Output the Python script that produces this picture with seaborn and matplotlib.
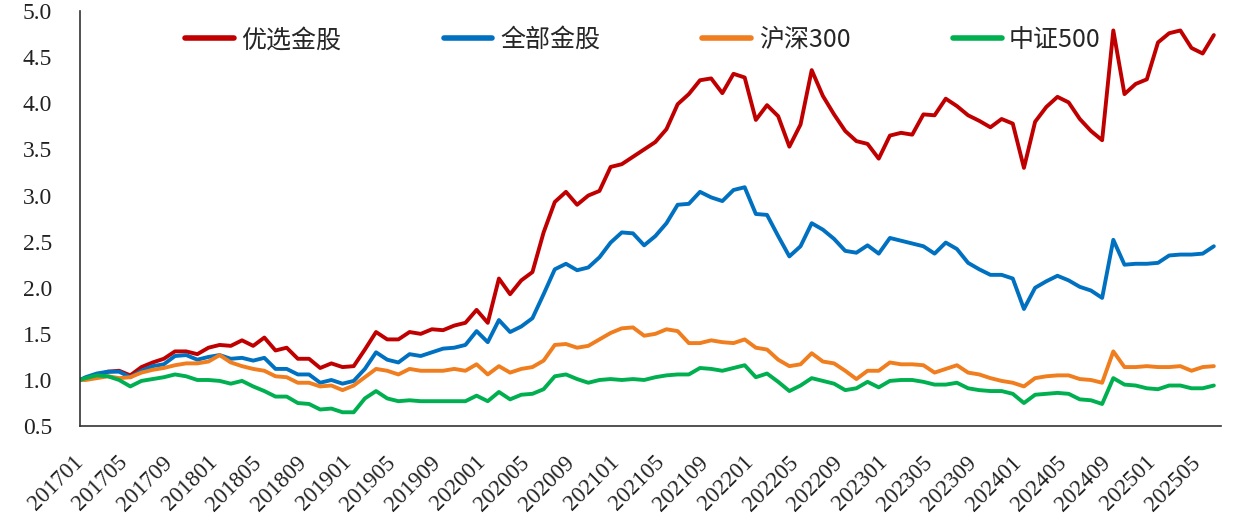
import numpy as np
import pandas as pd
import matplotlib
matplotlib.use("Agg")
import matplotlib.pyplot as plt
import matplotlib.transforms as mtransforms
import seaborn as sns

sns.set_style("white")
plt.rcParams['font.family'] = ['Liberation Serif', 'Noto Sans CJK SC', 'DejaVu Sans']

# month labels 201701 .. 202506, values are net value at each month (base = 1.0)
months = list(pd.period_range("2017-01", periods=102, freq="M").strftime("%Y%m"))
base = 1.0

top_picks = [1.02, 1.05, 1.09, 1.10, 1.05, 1.14, 1.19, 1.23, 1.31, 1.31,
             1.28, 1.35, 1.38, 1.37, 1.43, 1.37, 1.46, 1.32, 1.35, 1.23,
             1.23, 1.13, 1.18, 1.14, 1.15, 1.33, 1.52, 1.44, 1.44, 1.52,
             1.50, 1.55, 1.54, 1.59, 1.62, 1.76, 1.62, 2.10, 1.93, 2.08,
             2.17, 2.60, 2.93, 3.04, 2.90, 3.00, 3.05, 3.31, 3.34, 3.42,
             3.50, 3.58, 3.72, 3.99, 4.10, 4.25, 4.27, 4.11, 4.32, 4.28,
             3.82, 3.98, 3.86, 3.53, 3.77, 4.36, 4.08, 3.88, 3.70, 3.59,
             3.56, 3.40, 3.65, 3.68, 3.66, 3.88, 3.87, 4.05, 3.97, 3.87,
             3.81, 3.74, 3.83, 3.78, 3.30, 3.80, 3.96, 4.07, 4.01, 3.83,
             3.70, 3.60, 4.79, 4.10, 4.21, 4.26, 4.66, 4.76, 4.79, 4.60,
             4.54, 4.74]

all_picks = [1.03, 1.07, 1.09, 1.09, 1.03, 1.10, 1.15, 1.17, 1.26, 1.27,
             1.22, 1.25, 1.27, 1.23, 1.24, 1.21, 1.24, 1.12, 1.12, 1.06,
             1.06, 0.97, 1.00, 0.96, 0.99, 1.12, 1.30, 1.22, 1.19, 1.28,
             1.26, 1.30, 1.34, 1.35, 1.38, 1.53, 1.41, 1.65, 1.52, 1.58,
             1.67, 1.93, 2.20, 2.26, 2.19, 2.22, 2.33, 2.49, 2.60, 2.59,
             2.46, 2.56, 2.70, 2.90, 2.91, 3.04, 2.98, 2.94, 3.06, 3.09,
             2.80, 2.79, 2.56, 2.34, 2.45, 2.70, 2.63, 2.53, 2.40, 2.38,
             2.46, 2.37, 2.54, 2.51, 2.48, 2.45, 2.37, 2.49, 2.42, 2.27,
             2.20, 2.14, 2.14, 2.10, 1.77, 2.00, 2.07, 2.13, 2.08, 2.01,
             1.97, 1.89, 2.52, 2.25, 2.26, 2.26, 2.27, 2.35, 2.36, 2.36,
             2.37, 2.45]

csi300 = [1.00, 1.02, 1.04, 1.02, 1.03, 1.08, 1.11, 1.13, 1.16, 1.18,
          1.18, 1.20, 1.27, 1.19, 1.15, 1.12, 1.10, 1.04, 1.03, 0.97,
          0.97, 0.93, 0.94, 0.89, 0.94, 1.03, 1.12, 1.10, 1.06, 1.12,
          1.10, 1.10, 1.10, 1.12, 1.10, 1.17, 1.06, 1.15, 1.08, 1.12,
          1.14, 1.21, 1.38, 1.39, 1.35, 1.37, 1.44, 1.51, 1.56, 1.57,
          1.48, 1.50, 1.55, 1.53, 1.40, 1.40, 1.43, 1.41, 1.40, 1.44,
          1.35, 1.33, 1.22, 1.15, 1.17, 1.29, 1.20, 1.18, 1.10, 1.01,
          1.10, 1.10, 1.19, 1.17, 1.17, 1.16, 1.08, 1.12, 1.16, 1.08,
          1.06, 1.02, 0.99, 0.97, 0.93, 1.02, 1.04, 1.05, 1.05, 1.01,
          1.00, 0.97, 1.31, 1.14, 1.14, 1.15, 1.14, 1.14, 1.15, 1.10,
          1.14, 1.15]

csi500 = [1.02, 1.05, 1.04, 1.00, 0.93, 0.99, 1.01, 1.03, 1.06, 1.04,
          1.00, 1.00, 0.99, 0.96, 0.99, 0.93, 0.88, 0.82, 0.82, 0.75,
          0.74, 0.68, 0.69, 0.65, 0.65, 0.80, 0.88, 0.80, 0.77, 0.78,
          0.77, 0.77, 0.77, 0.77, 0.77, 0.83, 0.77, 0.87, 0.79, 0.84,
          0.85, 0.90, 1.04, 1.06, 1.01, 0.97, 1.00, 1.01, 1.00, 1.01,
          1.00, 1.03, 1.05, 1.06, 1.06, 1.13, 1.12, 1.10, 1.13, 1.16,
          1.03, 1.07, 0.98, 0.88, 0.94, 1.02, 0.99, 0.96, 0.89, 0.91,
          0.98, 0.92, 0.99, 1.00, 1.00, 0.98, 0.95, 0.95, 0.97, 0.91,
          0.89, 0.88, 0.88, 0.85, 0.75, 0.84, 0.85, 0.86, 0.85, 0.79,
          0.78, 0.74, 1.02, 0.95, 0.94, 0.91, 0.90, 0.94, 0.94, 0.91,
          0.91, 0.94]

series_names = ["优选金股", "全部金股", "沪深300", "中证500"]
colors = ["#C00000", "#0070C0", "#F07D1E", "#00B050"]

# base point at the start of the axis, monthly points in the middle of each month
xpos = np.r_[0, np.arange(len(months)) + 0.5]
frames = []
for name, vals in zip(series_names, [top_picks, all_picks, csi300, csi500]):
    frames.append(pd.DataFrame({"x": xpos, "value": [base] + vals, "series": name}))
df = pd.concat(frames, ignore_index=True)

fig = plt.figure(figsize=(12.33, 5.28), dpi=100)
ax = fig.add_axes([0.0649, 0.193, 0.925, 0.786])

sns.lineplot(data=df, x="x", y="value", hue="series", hue_order=series_names,
             palette=colors, linewidth=2.8, ax=ax, legend=True)

ax.set_xlim(0, 102.1)
ax.set_ylim(0.5, 5.0)
yt = np.arange(0.5, 5.01, 0.5)
ax.set_yticks(yt)
ax.set_yticklabels([f"{v:.1f}" for v in yt], fontsize=17)
tick_idx = list(range(0, len(months), 4))
ax.set_xticks(tick_idx)
ax.set_xticklabels([months[i] for i in tick_idx], rotation=45, ha="right",
                   va="center", rotation_mode="anchor", fontsize=16.5)
shift = mtransforms.ScaledTranslation(8 / 72, 0, fig.dpi_scale_trans)
for lab in ax.get_xticklabels():
    lab.set_transform(lab.get_transform() + shift)
ax.tick_params(axis="y", direction="in", length=6, width=1, pad=20, colors="#222222")
ax.tick_params(axis="x", direction="in", length=6, width=1, pad=24, colors="#222222")
ax.set_xlabel("")
ax.set_ylabel("")
for s in ["top", "right"]:
    ax.spines[s].set_visible(False)
for s in ["left", "bottom"]:
    ax.spines[s].set_color("#333333")
    ax.spines[s].set_linewidth(1.2)

leg = ax.legend(loc="center left", bbox_to_anchor=(0.092, 0.93), ncol=4, frameon=False,
                borderaxespad=0, borderpad=0,
                handlelength=1.95, handletextpad=0.3, columnspacing=4.1,
                prop={"family": ["Noto Sans CJK SC", "DejaVu Sans"], "size": 18})
for line in leg.get_lines():
    line.set_linewidth(4)

fig.savefig("out.png", dpi=100)
